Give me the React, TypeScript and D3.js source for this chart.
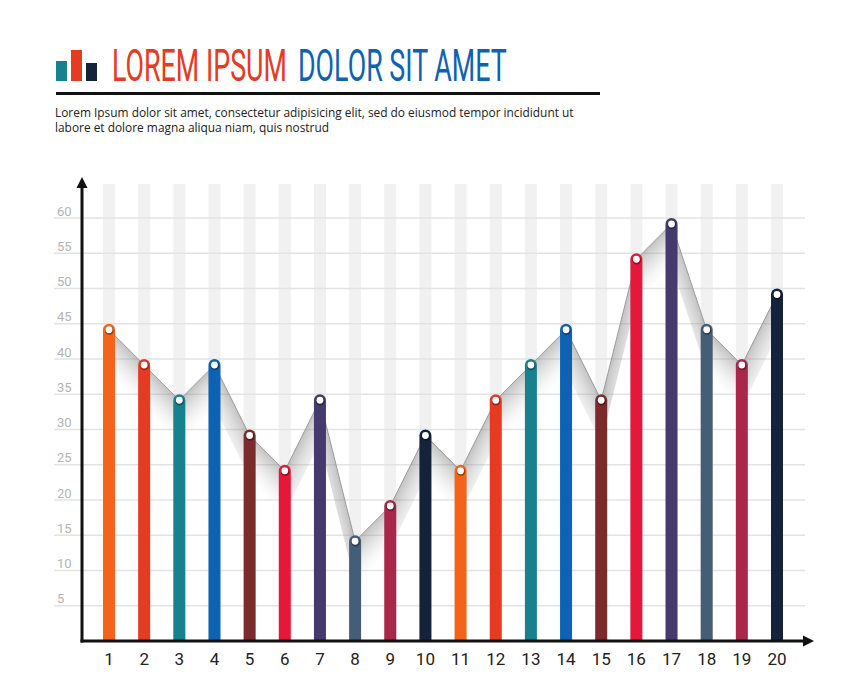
import React from 'react';
import * as d3 from 'd3';

const categories = ['1','2','3','4','5','6','7','8','9','10','11','12','13','14','15','16','17','18','19','20'];
const values = [45,40,35,40,30,25,35,15,20,30,25,35,40,45,35,55,60,45,40,50];
const palette = ['#F2641A','#E63A22','#17818E','#0E62B4','#7B2B2C','#E3183A','#443A6C','#465D77','#A8274B','#14233B'];
const yTicks = [5,10,15,20,25,30,35,40,45,50,55,60];
const titleRed = 'LOREM IPSUM';
const titleBlue = 'DOLOR SIT AMET';
const paragraph = [
  'Lorem Ipsum dolor sit amet, consectetur adipisicing elit, sed do eiusmod tempor incididunt ut',
  'labore et dolore magna aliqua niam, quis nostrud'
];

export default function App() {
  const W = 860, H = 699;
  const x = d3.scalePoint<string>().domain(categories).range([109, 777]);
  const y = d3.scaleLinear().domain([0, 60]).range([641, 218]);
  const base = y(0);
  const bw = 12;
  const pts = values.map((v, i) => [x(categories[i]) as number, y(v) + 6] as [number, number]);
  const line = d3.line()(pts) as string;

  const segs = pts.slice(0, -1).map((p, i) => {
    const q = pts[i + 1];
    const dx = q[0] - p[0], dy = q[1] - p[1];
    let nx = -dy, ny = dx;
    if (ny < 0) { nx = -nx; ny = -ny; }
    const len = Math.hypot(nx, ny);
    nx /= len; ny /= len;
    const D = 42;
    const mx = (p[0] + q[0]) / 2, my = (p[1] + q[1]) / 2;
    return { p, q, D, mx, my, nx, ny, i };
  });

  const sx = 0.61;

  return (
    <svg width={W} height={H} style={{ position: 'absolute', left: 0, top: 0, background: '#fff' }}>
      <defs>
        {segs.map(s => (
          <linearGradient key={s.i} id={`sh${s.i}`} gradientUnits="userSpaceOnUse"
            x1={s.mx} y1={s.my} x2={s.mx + s.nx * 36} y2={s.my + s.ny * 36}>
            <stop offset="0" stopColor="#7a7a7a" stopOpacity={0.45} />
            <stop offset="0.5" stopColor="#aaaaaa" stopOpacity={0.2} />
            <stop offset="1" stopColor="#ffffff" stopOpacity={0} />
          </linearGradient>
        ))}
      </defs>

      {/* Title icon */}
      <rect x={56} y={61} width={11} height={20} fill="#17818E" />
      <rect x={71} y={50} width={11} height={31} fill="#E63A22" />
      <rect x={86} y={63} width={11} height={18} fill="#14233B" />
      <g transform={`translate(112,81) scale(${sx},1)`}>
        <text x={0} y={0} fontFamily="Roboto" fontSize={44} fill="#E63A22">{titleRed}</text>
        <text x={(298 - 112) / sx} y={0} fontFamily="Roboto" fontSize={44} fill="#0E62B4">{titleBlue}</text>
      </g>
      <line x1={56} x2={600} y1={93.5} y2={93.5} stroke="#111" strokeWidth={3} />
      <text fontFamily="Open Sans" fontSize={11.9} fill="#222">
        {paragraph.map((t, i) => (
          <tspan key={i} x={55} y={117 + i * 15}>{t}</tspan>
        ))}
      </text>

      {/* Background bands */}
      {categories.map(c => (
        <rect key={c} x={(x(c) as number) - bw / 2} y={184} width={bw} height={base - 184} fill="#f1f1f1" />
      ))}

      {/* Gridlines & labels */}
      {yTicks.map(t => (
        <g key={t}>
          <line x1={54} x2={805} y1={y(t)} y2={y(t)} stroke="#e3e3e3" strokeWidth={1.5} />
          <text x={57} y={y(t) - 2.5} fontFamily="Roboto" fontSize={13} fill="#b3b3b3">{t}</text>
        </g>
      ))}

      {/* Shading under connecting line */}
      {segs.map(s => (
        <polygon key={s.i}
          points={`${s.p[0]},${s.p[1]} ${s.q[0]},${s.q[1]} ${s.q[0]},${s.q[1] + s.D} ${s.p[0]},${s.p[1] + s.D}`}
          fill={`url(#sh${s.i})`} />
      ))}
      <path d={line} fill="none" stroke="#9c9c9c" strokeWidth={1} />

      {/* Bars */}
      {values.map((v, i) => {
        const cx = x(categories[i]) as number;
        const top = y(v);
        const r = bw / 2;
        const d = `M${cx - r},${base} V${top + r} A${r},${r} 0 0 1 ${cx + r},${top + r} V${base} Z`;
        return (
          <g key={i}>
            <path d={d} fill={palette[i % palette.length]} />
            <circle cx={cx + 0.4} cy={top + r + 0.9} r={4.3} fill="rgba(0,0,0,0.35)" />
            <circle cx={cx} cy={top + r} r={3.4} fill="#fff" />
          </g>
        );
      })}

      {/* Axes */}
      <line x1={82} x2={82} y1={base + 1.5} y2={186} stroke="#111" strokeWidth={3} />
      <polygon points="82,177 76.5,188 87.5,188" fill="#111" />
      <line x1={80.5} x2={804} y1={base} y2={base} stroke="#111" strokeWidth={3} />
      <polygon points="814,641 803,635.5 803,646.5" fill="#111" />

      {/* X labels */}
      {categories.map(c => (
        <text key={c} x={x(c) as number} y={665} textAnchor="middle" fontFamily="Roboto" fontSize={17} fill="#222">{c}</text>
      ))}
    </svg>
  );
}
